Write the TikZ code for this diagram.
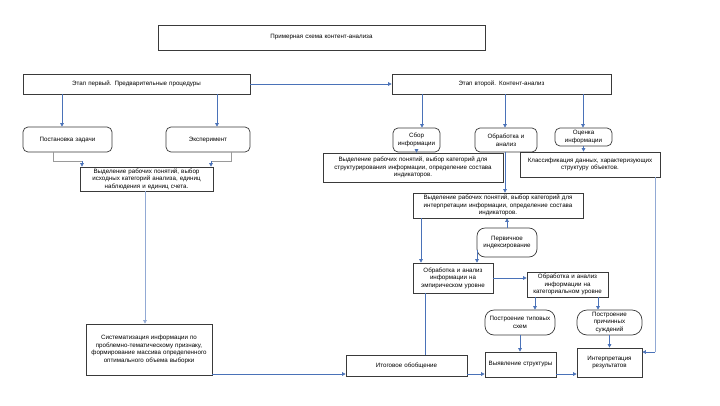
\documentclass[tikz,border=0pt]{standalone}
\usepackage{fontspec}
\setmainfont{Liberation Sans}
\usetikzlibrary{arrows.meta,calc}
\definecolor{boxc}{HTML}{3A3A3A}
\definecolor{linec}{HTML}{4A72B8}
\definecolor{greyl}{HTML}{9A9A9A}
\tikzset{
  bx/.style={draw=boxc, line width=0.7pt, fill=white, inner sep=0.5pt, align=center,
    font=\fontsize{6.2}{7.6}\selectfont},
  rbx/.style={bx, rounded corners=5pt},
  arr/.style={draw=linec, line width=0.6pt, -{Triangle[length=3.5pt,width=3.5pt]}},
  ln/.style={draw=linec, line width=0.6pt},
  gln/.style={draw=greyl, line width=0.6pt},
}
\begin{document}
\begin{tikzpicture}[x=1pt,y=-1pt]
\useasboundingbox (0,0) rectangle (720,405);
\fill[white] (0,0) rectangle (720,405);
% nodes
\node[bx, minimum width=327pt, minimum height=25pt, text width=323pt] (title) at (321.5,37.5) {Примерная схема контент-анализа};
\node[bx, minimum width=227pt, minimum height=20pt, text width=223pt] (st1) at (136.5,84) {Этап первый. Предварительные процедуры};
\node[bx, minimum width=219pt, minimum height=20pt, text width=215pt] (st2) at (501.5,84) {Этап второй. Контент-анализ};
\node[rbx, minimum width=89pt, minimum height=25pt, text width=85pt] (post) at (67.5,139.5) {Постановка задачи};
\node[rbx, minimum width=84pt, minimum height=25pt, text width=80pt] (eksp) at (208,139.5) {Эксперимент};
\node[bx, minimum width=133pt, minimum height=24pt, text width=131pt] (vyd1) at (146.5,179) {Выделение рабочих понятий, выбор\\ исходных категорий анализа, единиц\\ наблюдения и единиц счета.};
\node[bx, minimum width=126pt, minimum height=51pt, text width=122pt] (sys) at (149,349.5) {Систематизация информации по\\ проблемно-тематическому признаку,\\ формирование массива определенного\\ оптимального объема выборки};
\node[bx, minimum width=121pt, minimum height=21pt, text width=117pt] (itog) at (406.5,365.5) {Итоговое обобщение};
\node[rbx, minimum width=47pt, minimum height=24pt, text width=45pt] (sbor) at (416.5,140) {Сбор\\ информации};
\node[rbx, minimum width=62pt, minimum height=24pt, text width=58pt] (obr) at (506,140) {Обработка и\\ анализ};
\node[rbx, minimum width=57pt, minimum height=18pt, text width=55pt] (ocen) at (583.5,137) {Оценка\\ информации};
\node[bx, minimum width=180pt, minimum height=29pt, text width=178pt] (vyds) at (413,167.5) {Выделение рабочих понятий, выбор категорий для\\ структурирования информации, определение состава\\ индикаторов.};
\node[bx, minimum width=140pt, minimum height=25pt, text width=138pt] (klass) at (590,164.5) {Классификация данных, характеризующих\\ структуру объектов.};
\node[bx, minimum width=170pt, minimum height=25pt, text width=168pt] (vyd2) at (498,205.5) {Выделение рабочих понятий, выбор категорий для\\ интерпретации информации, определение состава\\ индикаторов.};
\node[rbx, rounded corners=8pt, minimum width=60pt, minimum height=29pt, text width=58pt] (perv) at (507,242.5) {Первичное\\ индексирование};
\node[bx, minimum width=80pt, minimum height=30pt, text width=78pt] (emp) at (453,278) {Обработка и анализ\\ информации на\\ эмпирическом уровне};
\node[bx, minimum width=81pt, minimum height=25pt, text width=79pt] (kat) at (567.5,284.5) {Обработка и анализ\\ информации на\\ категориальном уровне};
\node[rbx, rounded corners=9pt, minimum width=70pt, minimum height=25pt, text width=68pt] (tip) at (520,322.5) {Построение типовых\\ схем};
\node[rbx, rounded corners=10pt, minimum width=65pt, minimum height=25pt, text width=60pt] (prich) at (609.5,322.5) {Построение\\ причинных\\ суждений};
\node[bx, minimum width=71pt, minimum height=25pt, text width=69pt] (struct) at (520.5,364.5) {Выявление структуры};
\node[bx, minimum width=65pt, minimum height=29pt, text width=63pt] (interp) at (609.5,362.5) {Интерпретация\\ результатов};
% helper coordinates
\coordinate (a1) at (62,0);
\coordinate (a2) at (217,0);
\coordinate (b1) at (53,161);
\coordinate (b2) at (82,161);
\coordinate (c1) at (231,161);
\coordinate (c2) at (211,161);
\coordinate (d1) at (145,0);
\coordinate (e1) at (422,0);
\coordinate (e2) at (505,0);
\coordinate (e3) at (583,0);
\coordinate (f1) at (421,0);
\coordinate (f2) at (477,250);
\coordinate (g1) at (425,0);
\coordinate (h1) at (535,0);
\coordinate (h2) at (598,0);
\coordinate (k1) at (655,0);
\coordinate (k2) at (0,352);
\coordinate (y1) at (0,374);
% connectors
\draw[arr] (st1.east) -- (st2.west);
\draw[arr] (a1 |- st1.south) -- (a1 |- post.north);
\draw[arr] (a2 |- st1.south) -- (a2 |- eksp.north);
\draw[gln] (b1 |- post.south) -- (b1) -- (b2);
\draw[arr] (b2) -- (b2 |- vyd1.north);
\draw[gln] (c1 |- eksp.south) -- (c1) -- (c2);
\draw[arr] (c2) -- (c2 |- vyd1.north);
\draw[arr, draw=linec!60] (d1 |- vyd1.south) -- (d1 |- sys.north);
\draw[arr] (sys.east |- y1) -- (itog.west |- y1);
\draw[arr] (e1 |- st2.south) -- (e1 |- sbor.north);
\draw[arr] (e2 |- st2.south) -- (e2 |- obr.north);
\draw[arr] (e3 |- st2.south) -- (e3 |- ocen.north);
\draw[arr] (sbor.south) -- (sbor.south |- vyds.north);
\draw[arr] (ocen.south) -- (ocen.south |- klass.north);
\draw[arr] (e2 |- obr.south) -- (e2 |- vyd2.north);
\draw[arr] (perv.north) -- (perv.north |- vyd2.south);
\draw[arr] (f1 |- vyd2.south) -- (f1 |- emp.north);
\draw[arr] (f2) -- (f2 |- emp.north);
\draw[arr] (emp.east) -- (emp.east -| kat.west);
\draw[arr] (h1 |- kat.south) -- (h1 |- tip.north);
\draw[arr] (h2 |- kat.south) -- (h2 |- prich.north);
\draw[arr] (tip.south) -- (tip.south |- struct.north);
\draw[arr] (prich.south) -- (prich.south |- interp.north);
\draw[ln] (g1 |- emp.south) -- (g1 |- itog.north);
\draw[arr] (itog.east |- y1) -- (struct.west |- y1);
\draw[arr] (struct.east |- y1) -- (interp.west |- y1);
\draw[ln, draw=linec!60] (k1 |- klass.south) -- (k1 |- k2);
\draw[arr] (k1 |- k2) -- (interp.east |- k2);
\end{tikzpicture}
\end{document}
